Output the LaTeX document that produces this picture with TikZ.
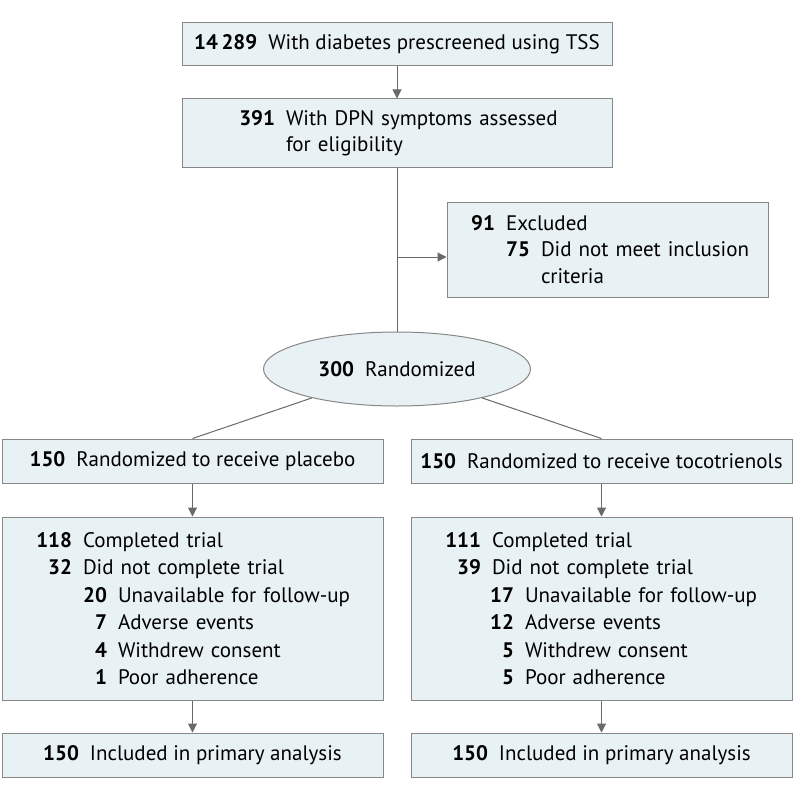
\documentclass[tikz,border=0pt]{standalone}
\usepackage{fontspec}
\setmainfont{PT Sans}
\usetikzlibrary{shapes.geometric,arrows.meta}
\definecolor{boxfill}{RGB}{232,241,244}
\definecolor{boxdraw}{RGB}{135,135,135}
\definecolor{arrgray}{RGB}{105,105,105}
\tikzset{
  box/.style={draw=boxdraw, fill=boxfill, line width=1pt, inner sep=0pt, rectangle,
    font=\fontsize{21}{27.5}\selectfont},
  lbox/.style={box, align=left},
  arr/.style={draw=arrgray, line width=1pt, -{Triangle[length=9pt,width=9pt]}},
  ln/.style={draw=arrgray, line width=1pt},
}
\newcommand{\rw}[3]{\hspace*{#1}\makebox[0pt][r]{\bfseries #2}\hspace*{11pt}#3}
\begin{document}
\begin{tikzpicture}[x=1pt,y=-1pt]
\useasboundingbox (0,0) rectangle (794,797);
\node[box, minimum width=430pt, minimum height=43pt] (pre) at (397,44.5)
  {\textbf{14\,289}\hspace{11pt}With diabetes prescreened using TSS};
\node[lbox, minimum width=430pt, minimum height=68pt, text width=430pt,
  font=\fontsize{21}{25.5}\selectfont] (elig) at (397,133)
  {\rw{93pt}{391}{With DPN symptoms assessed}\\\hspace*{104pt}for eligibility};
\node[lbox, minimum width=321pt, minimum height=95pt, text width=321pt,
  font=\fontsize{21}{26.5}\selectfont] (excl) at (607.5,249.5)
  {\rw{48pt}{91}{Excluded}\\\rw{83pt}{75}{Did not meet inclusion}\\\hspace*{94pt}criteria};
\node[ellipse, draw=boxdraw, fill=boxfill, line width=1pt, minimum width=267pt, minimum height=74pt,
  inner sep=0pt, font=\fontsize{21}{27.5}\selectfont] (rand) at (397,369)
  {\textbf{300}\hspace{11pt}Randomized};
\node[box, minimum width=381pt, minimum height=44pt] (plac) at (192.5,461)
  {\textbf{150}\hspace{11pt}Randomized to receive placebo};
\node[box, minimum width=381pt, minimum height=44pt] (toco) at (601.5,461)
  {\textbf{150}\hspace{11pt}Randomized to receive tocotrienols};
\node[lbox, minimum width=381pt, minimum height=183pt, text width=381pt] (placc) at (192.5,608.5)
  {\rw{70pt}{118}{Completed trial}\\
   \rw{70pt}{32}{Did not complete trial}\\
   \rw{105pt}{20}{Unavailable for follow-up}\\
   \rw{105pt}{7}{Adverse events}\\
   \rw{105pt}{4}{Withdrew consent}\\
   \rw{105pt}{1}{Poor adherence}};
\node[lbox, minimum width=381pt, minimum height=183pt, text width=381pt] (tococ) at (601.5,608.5)
  {\rw{70pt}{111}{Completed trial}\\
   \rw{70pt}{39}{Did not complete trial}\\
   \rw{103pt}{17}{Unavailable for follow-up}\\
   \rw{103pt}{12}{Adverse events}\\
   \rw{103pt}{5}{Withdrew consent}\\
   \rw{103pt}{5}{Poor adherence}};
\node[box, minimum width=381pt, minimum height=44pt] (placf) at (192.5,755)
  {\textbf{150}\hspace{11pt}Included in primary analysis};
\node[box, minimum width=381pt, minimum height=44pt] (tocof) at (601.5,755)
  {\textbf{150}\hspace{11pt}Included in primary analysis};
\coordinate (br) at (397,257);
\draw[arr] (pre.south) -- (elig.north);
\draw[ln] (elig.south) -- (rand.north);
\draw[arr] (br) -- (br -| excl.west);
\draw[ln] (rand) -- (plac.north);
\draw[ln] (rand) -- (toco.north);
\draw[arr] (plac.south) -- (placc.north);
\draw[arr] (toco.south) -- (tococ.north);
\draw[arr] (placc.south) -- (placf.north);
\draw[arr] (tococ.south) -- (tocof.north);
\end{tikzpicture}
\end{document}
